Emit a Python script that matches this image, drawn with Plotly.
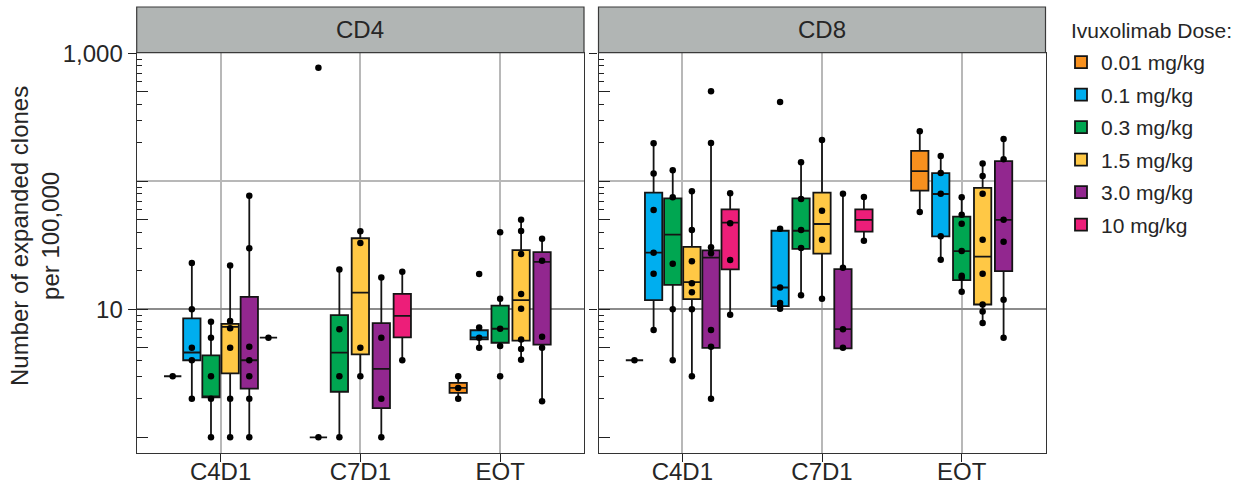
import plotly.graph_objects as go

# ---------------- data ----------------
TIMEPOINTS = ["C4D1", "C7D1", "EOT"]
DOSES = ["0.01 mg/kg", "0.1 mg/kg", "0.3 mg/kg", "1.5 mg/kg", "3.0 mg/kg", "10 mg/kg"]
COLORS = ["#F7901E", "#00AEEF", "#00A651", "#FFC845", "#92278F", "#ED1E79"]
PANELS = ["CD4", "CD8"]
LEGEND_TITLE = "Ivuxolimab Dose:"

N = None
# rows = dose, columns = timepoint (C4D1, C7D1, EOT)
CD4_LOW = [[3, 1, 2.0], [2.0, N, 5.0], [1, 1, 5.17], [1, 3, 4.04], [1, 1, 1.91], [6, 3.97, N]]
CD4_Q1 = [[3, 1, 2.22], [4.0, N, 5.83], [2.05, 2.27, 5.48], [3.16, 4.45, 5.7], [2.4, 1.69, 5.3], [6, 6.04, N]]
CD4_MED = [[3, 1, 2.43], [4.6, N, 6.04], [2.07, 4.58, 7.05], [7.3, 13.5, 11.8], [4.0, 3.43, 23.5], [6, 8.9, N]]
CD4_Q3 = [[3, 1, 2.66], [8.5, N, 6.86], [4.37, 9.0, 10.7], [7.7, 35.9, 29], [12.5, 7.8, 28], [6, 13.2, N]]
CD4_HIGH = [[3, 1, 3.0], [22.6, N, 7.2], [8, 20.5, 12.1], [22, 40.7, 50], [77, 17.7, 35.6], [6, 19.7, N]]
CD4_POINTS = [
    [[3], [1, 770], [2, 2.43, 3]],
    [[2, 4, 5, 10, 23], [], [5, 6, 7.2, 18.9]],
    [[1, 2, 3, 6, 8], [1, 3, 7, 20.5], [3, 5.17, 7.05, 12.1, 40]],
    [[1, 2, 5, 7.1, 8.1, 22], [3, 5, 33, 40.7], [4.04, 4.9, 5.8, 10.1, 13.2, 27, 41, 50]],
    [[1, 2, 3, 4, 5.1, 30, 77], [1, 2, 6, 17.7], [1.91, 5.0, 6.1, 24, 35.6]],
    [[6], [4, 19.7], []],
]

CD8_LOW = [[4, N, 57.5], [6.9, 10.1, 24.4], [4.0, 12.9, 13.7], [3.0, 12.1, 7.8], [2.0, 4.96, 5.97], [9.08, 34.4, N]]
CD8_Q1 = [[4, N, 84.5], [11.8, 10.6, 37.2], [15.5, 29.7, 16.9], [12.0, 27.2, 10.9], [5.0, 4.96, 19.9], [20.5, 40.4, N]]
CD8_MED = [[4, N, 120], [27.7, 14.8, 79.6], [38.3, 41.1, 28.5], [16.3, 46.4, 25.8], [25.3, 7.0, 50], [47.5, 50, N]]
CD8_Q3 = [[4, N, 173], [81.5, 41.1, 116], [73.6, 73.6, 52.9], [30.8, 81.5, 89], [28.9, 20.6, 144], [60.4, 60.4, N]]
CD8_HIGH = [[4, N, 246], [198, 42.6, 158], [122, 141, 75], [83.5, 210, 138], [199, 80, 214], [80.6, 75.4, N]]
CD8_POINTS = [
    [[4], [], [57.5, 246]],
    [[6.9, 19, 27.7, 59.7, 115, 198], [10.1, 10.6, 11.2, 14.8, 42.6, 416], [24.4, 37.3, 80, 116, 158]],
    [[4, 10, 22.7, 75, 122], [12.9, 30.1, 41.6, 72.7, 141], [13.7, 17.7, 18.3, 28.5, 46.6, 54.8, 75]],
    [[3, 10, 13.6, 16, 23.7, 41.6, 83.5], [12.1, 35, 59, 210], [7.8, 9.6, 10.9, 19, 35, 80, 110, 138]],
    [[2, 5.1, 6.9, 27.4, 30.5, 199, 505], [5, 7, 21.1, 80], [6, 11.9, 33.7, 50, 149, 214]],
    [[9.08, 24.3, 47, 80.6], [34.4, 75.4], []],
]

Y_TICKS = [10, 1000]
Y_TICKTEXT = ["10", "1,000"]
Y_MINOR_GRID = [100]

# ---------------- layout constants ----------------
W, H = 1240, 492
FONT = "Liberation Sans, Arial, sans-serif"
TXT = "#262626"
SLOT = {5: 0.150, 6: 0.137}
BOX_W = 0.124
YR = [-0.125, 3.005]
XR = [0.4, 3.6]
X_DOMAINS = [[136.7 / W, 584.0 / W], [598.5 / W, 1045.5 / W]]
Y_DOMAIN = [1 - 453.3 / H, 1 - 52.7 / H]
STRIP = [1 - 52.7 / H, 1 - 7.0 / H]

panel_data = [
    (CD4_LOW, CD4_Q1, CD4_MED, CD4_Q3, CD4_HIGH, CD4_POINTS),
    (CD8_LOW, CD8_Q1, CD8_MED, CD8_Q3, CD8_HIGH, CD8_POINTS),
]

fig = go.Figure()

for pi, (low, q1, med, q3, high, pts) in enumerate(panel_data):
    xa = "x" if pi == 0 else "x2"
    ya = "y" if pi == 0 else "y2"
    px, py = [], []
    for d in range(len(DOSES)):
        bx, bq1, bmed, bq3, blo, bhi = [], [], [], [], [], []
        for t in range(len(TIMEPOINTS)):
            if med[d][t] is None:
                continue
            present = [dd for dd in range(len(DOSES)) if med[dd][t] is not None]
            n = len(present)
            k = present.index(d)
            xpos = t + 1 + (k - (n - 1) / 2) * SLOT[n]
            bx.append(xpos)
            bq1.append(q1[d][t]); bmed.append(med[d][t]); bq3.append(q3[d][t])
            blo.append(low[d][t]); bhi.append(high[d][t])
            for v in pts[d][t]:
                px.append(xpos)
                py.append(v)
        fig.add_trace(go.Box(
            x=bx, q1=bq1, median=bmed, q3=bq3, lowerfence=blo, upperfence=bhi,
            width=BOX_W, fillcolor=COLORS[d],
            line=dict(color="#141414", width=1.8),
            whiskerwidth=0, boxpoints=False,
            name=DOSES[d], legendgroup=DOSES[d], showlegend=(pi == 0),
            xaxis=xa, yaxis=ya, hoverinfo="skip",
        ))
    fig.add_trace(go.Scatter(
        x=px, y=py, mode="markers",
        marker=dict(color="black", size=6.5),
        showlegend=False, xaxis=xa, yaxis=ya, hoverinfo="skip",
    ))

# dummy traces so the overlay log-tick axes are drawn
fig.add_trace(go.Scatter(x=[None], y=[None], xaxis="x", yaxis="y3", showlegend=False, hoverinfo="skip"))
fig.add_trace(go.Scatter(x=[None], y=[None], xaxis="x2", yaxis="y4", showlegend=False, hoverinfo="skip"))

LONG_TICKS = [m * 10 ** e for e in range(0, 4) for m in (1, 5) if m * 10 ** e <= 1000]
SHORT_TICKS = [m * 10 ** e for e in range(0, 3) for m in (2, 3, 4, 6, 7, 8, 9)]


def main_y(anchor, labels):
    return dict(
        type="log", range=YR, domain=Y_DOMAIN, anchor=anchor,
        tickmode="array", tickvals=Y_TICKS, ticktext=Y_TICKTEXT,
        showticklabels=labels, tickfont=dict(size=24, color=TXT, family=FONT),
        ticks="outside", ticklen=8, tickwidth=1.2, tickcolor="#222",
        showgrid=True, gridcolor="#8c8c8c", gridwidth=1.5,
        minor=dict(tickmode="array", tickvals=Y_MINOR_GRID, showgrid=True,
                   gridcolor="#b8b8b8", gridwidth=1.5, ticks=""),
        showline=True, linecolor="#333", linewidth=1.2, mirror=True,
        zeroline=False, automargin=False, fixedrange=True,
    )


def tick_y(overlay, anchor):
    return dict(
        type="log", range=YR, domain=Y_DOMAIN, anchor=anchor, overlaying=overlay, side="left",
        tickmode="array", tickvals=LONG_TICKS, ticks="inside", ticklen=11, tickwidth=1.2,
        tickcolor="#222", showticklabels=False, showgrid=False, showline=False, zeroline=False,
        minor=dict(tickmode="array", tickvals=SHORT_TICKS, ticks="inside", ticklen=5,
                   tickwidth=1.2, tickcolor="#222", showgrid=False),
        automargin=False, fixedrange=True,
    )


def main_x(domain, anchor):
    return dict(
        domain=domain, range=XR, anchor=anchor,
        tickmode="array", tickvals=[1, 2, 3], ticktext=TIMEPOINTS,
        tickfont=dict(size=24, color=TXT, family=FONT),
        ticks="outside", ticklen=8, tickwidth=1.2, tickcolor="#222",
        ticklabelstandoff=-11,
        showgrid=True, gridcolor="#b8b8b8", gridwidth=1.5,
        showline=True, linecolor="#333", linewidth=1.2, mirror=True,
        zeroline=False, automargin=False, fixedrange=True,
    )


shapes = []
annotations = []
for pi, name in enumerate(PANELS):
    dom = X_DOMAINS[pi]
    shapes.append(dict(type="rect", xref="paper", yref="paper",
                       x0=dom[0], x1=dom[1], y0=STRIP[0], y1=STRIP[1],
                       fillcolor="#B1B5B4", line=dict(color="#3a3a3a", width=1.2), layer="above"))
    annotations.append(dict(text=name, xref="paper", yref="paper",
                            x=(dom[0] + dom[1]) / 2, y=(STRIP[0] + STRIP[1]) / 2,
                            showarrow=False, font=dict(size=24, color=TXT, family=FONT),
                            xanchor="center", yanchor="middle"))

annotations.append(dict(text="Number of expanded clones<br>per 100,000", xref="paper", yref="paper",
                        x=35 / W, y=1 - 236 / H, textangle=-90, showarrow=False,
                        font=dict(size=24, color=TXT, family=FONT),
                        xanchor="center", yanchor="middle"))

# legend title
annotations.append(dict(text=LEGEND_TITLE, xref="paper", yref="paper",
                        x=1069 / W, y=1 - 30 / H, showarrow=False,
                        font=dict(size=21, color=TXT, family=FONT),
                        xanchor="left", yanchor="middle"))

fig.update_layout(
    width=W, height=H,
    margin=dict(l=0, r=0, t=0, b=0),
    paper_bgcolor="white", plot_bgcolor="white",
    font=dict(family=FONT, color=TXT),
    boxmode="overlay",
    xaxis=main_x(X_DOMAINS[0], "y"),
    xaxis2=main_x(X_DOMAINS[1], "y2"),
    yaxis=main_y("x", True),
    yaxis2=main_y("x2", False),
    yaxis3=tick_y("y", "x"),
    yaxis4=tick_y("y2", "x2"),
    shapes=shapes,
    annotations=annotations,
    legend=dict(
        font=dict(size=21, color=TXT, family=FONT),
        x=1061 / W, y=1 - 42 / H, xanchor="left", yanchor="top",
        bgcolor="rgba(0,0,0,0)", tracegroupgap=2.2,
    ),
)

fig.write_html(
    "out.html",
    config={"displayModeBar": False},
    post_script="document.body.style.margin='0';document.body.style.padding='0';",
)
